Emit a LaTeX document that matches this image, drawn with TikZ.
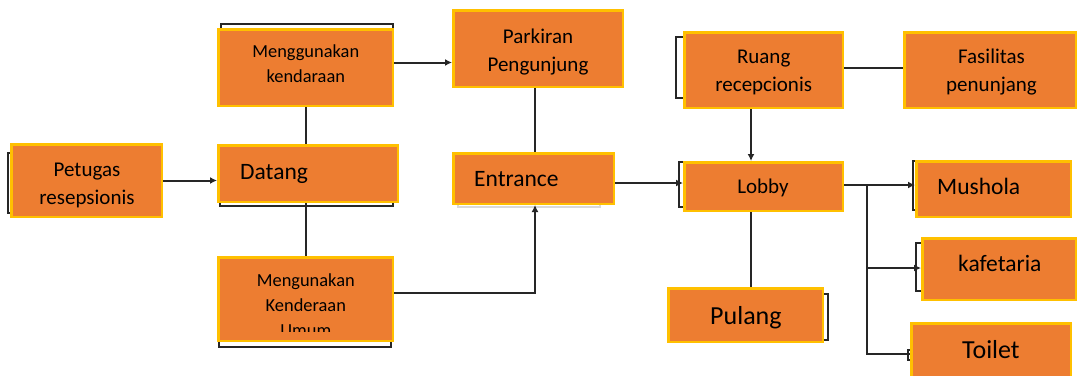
\documentclass[tikz,border=0pt]{standalone}
\usepackage{fontspec}
\setmainfont{Carlito}
\usetikzlibrary{arrows.meta}
\definecolor{boxfill}{HTML}{ED7D31}
\definecolor{boxedge}{HTML}{FFC000}
\definecolor{linec}{HTML}{262626}
\begin{document}
\begin{tikzpicture}[x=1pt,y=-1pt,
  box/.style={draw=boxedge, fill=boxfill, line width=2.5pt, inner sep=0pt},
  lbl/.style={inner sep=0pt, text=black, align=center, anchor=base},
  lblw/.style={inner sep=0pt, text=black, anchor=base west},
  conn/.style={draw=linec, line width=2pt},
  arr/.style={conn, -{Latex[length=7pt,width=7pt]}},
  shad/.style={draw=linec, line width=1.5pt},
  fs18/.style={font=\fontsize{18.4}{24.5}\selectfont},
  fs21/.style={font=\fontsize{21}{27.5}\selectfont},
  fs23/.style={font=\fontsize{23.5}{28}\selectfont},
  fs26/.style={font=\fontsize{26}{30}\selectfont}]
\useasboundingbox (0,0) rectangle (1079,375);
\fill[white] (0,0) rectangle (1079,375);

% shadow brackets behind boxes
\draw[shad] (8,153) rectangle (120,213);
\draw[shad] (221,24) rectangle (393,100);
\draw[shad] (220,150) rectangle (393,206);
\draw[shad] (219,300) rectangle (391,347);
\draw[shad, draw=gray!30] (458,170) rectangle (600,207);
\draw[shad] (676,37) rectangle (760,98);
\draw[shad] (679,162) rectangle (760,207);
\draw[shad] (913,161) rectangle (1000,210);
\draw[shad] (916,243) rectangle (1000,291);
\draw[shad] (700,294) rectangle (828,340);
\draw[shad] (908,350) rectangle (1000,360);

% boxes
\node[box, minimum width=150.5pt, minimum height=72.5pt] (petugas) at (86.5,180.5) {};
\node[box, minimum width=174.5pt, minimum height=76.5pt] (mk) at (305.5,67.5) {};
\node[box, minimum width=179.5pt, minimum height=56.5pt] (datang) at (308,173.5) {};
\node[box, minimum width=174.5pt, minimum height=83.5pt] (mu) at (305.5,299) {};
\node[box, minimum width=169.5pt, minimum height=76.5pt] (pk) at (538,48.5) {};
\node[box, minimum width=160.5pt, minimum height=50.5pt] (ent) at (533.5,178.5) {};
\node[box, minimum width=158.5pt, minimum height=75.5pt] (ruang) at (763.5,70) {};
\node[box, minimum width=171.5pt, minimum height=75.5pt] (fas) at (990,70) {};
\node[box, minimum width=158.5pt, minimum height=48.5pt] (lobby) at (763.5,186.5) {};
\node[box, minimum width=154.5pt, minimum height=55.5pt] (mush) at (993.5,189) {};
\node[box, minimum width=153.5pt, minimum height=61.5pt] (kaf) at (999,269) {};
\node[box, minimum width=159.5pt, minimum height=60.5pt] (toi) at (991,353.5) {};
\node[box, minimum width=154.5pt, minimum height=53.5pt] (pul) at (745.5,315) {};

% labels (base anchor = baseline of the last line)
\node[lbl, fs21] (petugasT) at (87,204) {Petugas\\resepsionis};
\node[lbl, fs18] (mkT) at (305.8,82) {Menggunakan\\kendaraan};
\node[lblw, fs23] (datangT) at (240,179) {Datang};
\begin{scope}
  \clip (217,256) rectangle (394,331.5);
  \node[lbl, font=\fontsize{18.4}{25}\selectfont] (muT) at (305.8,336) {Mengunakan\\Kenderaan\\Umum};
\end{scope}
\node[lbl, fs21] (pkT) at (538,71) {Parkiran\\Pengunjung};
\node[lblw, fs23] (entT) at (474,186) {Entrance};
\node[lbl, fs21] (ruangT) at (763.7,91) {Ruang\\recepcionis};
\node[lbl, fs21] (fasT) at (991.5,91) {Fasilitas\\penunjang};
\node[lbl, fs21] (lobbyT) at (763,193.3) {Lobby};
\node[lblw, fs23] (mushT) at (937,194) {Mushola};
\node[lblw, fs23] (kafT) at (958,271.7) {kafetaria};
\node[lblw, fs26] (toiT) at (962,358) {Toilet};
\node[lblw, fs26] (pulT) at (710,324) {Pulang};

% connectors
\draw[arr] (petugas.east) -- (petugas.east -| datang.west);
\draw[conn] (mk.south) -- (mk.south |- datang.north);
\draw[conn] (mk.south |- datang.south) -- (mu.north);
\draw[arr] ([yshift=5pt]mk.east) -- ([yshift=5pt]mk.east -| pk.west);
\draw[arr] ([yshift=6pt]mu.east) -| ([xshift=1.5pt]ent.south);
\draw[conn] ([xshift=1.5pt]ent.north |- pk.south) -- ([xshift=1.5pt]ent.north);
\draw[arr] ([yshift=-4.5pt]ent.east) -- ([yshift=-4.5pt]ent.east -| lobby.west);
\draw[conn] ([yshift=2pt]ruang.east) -- ([yshift=2pt]ruang.east -| fas.west);
\draw[arr] ([xshift=-12.5pt]ruang.south) -- ([xshift=-12.5pt]ruang.south |- lobby.north);
\draw[conn] ([xshift=-12.5pt]lobby.south) -- ([xshift=-12.5pt]lobby.south |- pul.north);
\coordinate (br) at ([yshift=1.5pt,xshift=23pt]lobby.east);
\draw[arr] ([yshift=1.5pt]lobby.east) -- ([yshift=1.5pt]lobby.east -| mush.west);
\draw[arr] (br) |- ([yshift=1pt]kaf.west);
\draw[conn] (br) |- ([yshift=-0.5pt]toi.west);
\end{tikzpicture}
\end{document}
